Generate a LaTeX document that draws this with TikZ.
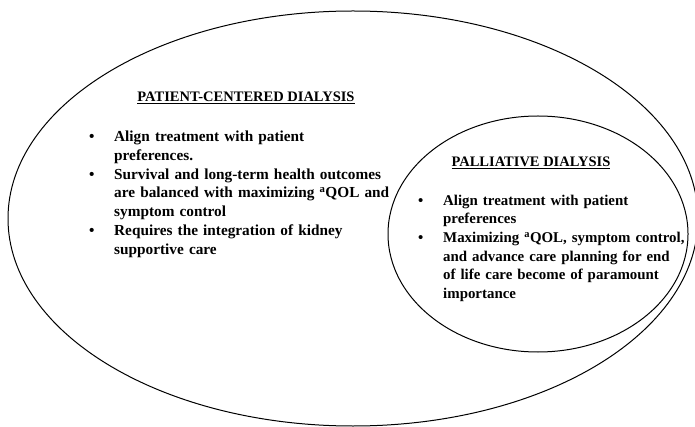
\documentclass[tikz,border=0pt]{standalone}
\usepackage{fontspec}
\setmainfont{Liberation Serif}
\usepackage{tikz}
\usetikzlibrary{positioning, shapes.geometric}

% bullet line with hanging indent
\newcommand{\bitem}[1]{\par\noindent\hangindent=25pt\hangafter=1\makebox[25pt][l]{\textbullet}#1}
\newcommand{\qol}{\textsuperscript{a}QOL}

\begin{document}
\begin{tikzpicture}[x=1pt, y=-1pt, font=\fontsize{15.3}{18.7}\selectfont\bfseries,
    ring/.style={ellipse, draw, line width=1pt, inner sep=0pt},
    heading/.style={anchor=base, inner sep=0pt, font=\fontsize{14.5}{17}\selectfont\bfseries},
    points/.style={anchor=north west, inner sep=0pt, text width=340, align=left}]
  \useasboundingbox (0,0) rectangle (695,427);

  % outer set
  \node[ring, minimum width=690, minimum height=415] (pcd) at (353,218.5) {};
  \node[heading] (pcdtitle) at (246,101.5) {\underline{PATIENT-CENTERED DIALYSIS}};
  \node[points] (pcdlist) at (89,123) {%
    \bitem{Align treatment with patient\newline preferences.}
    \bitem{Survival and long-term health outcomes\newline are balanced with maximizing \qol{} and\newline symptom control}
    \bitem{Requires the integration of kidney\newline supportive care}\par};

  % inner set
  \node[ring, minimum width=300, minimum height=236] (pal) at (538,234) {};
  \node[heading] (paltitle) at (531,166.3) {\underline{PALLIATIVE DIALYSIS}};
  \node[points, text width=310, font=\fontsize{14.9}{18.7}\selectfont\bfseries] (pallist) at (418,186.3) {%
    \bitem{Align treatment with patient\newline preferences}
    \bitem{Maximizing \qol, symptom control,\newline and advance care planning for end\newline of life care become of paramount\newline importance}\par};
\end{tikzpicture}
\end{document}
